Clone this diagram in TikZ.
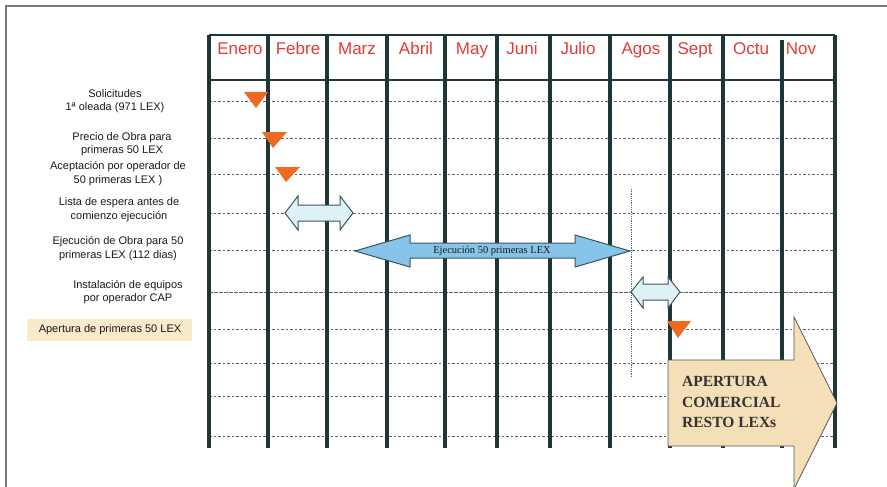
\documentclass[tikz,border=0pt]{standalone}
\usepackage{fontspec}
\setmainfont{Liberation Sans}
\newfontfamily\serifx{Liberation Serif}
\definecolor{gridc}{HTML}{1E3636}
\definecolor{dashc}{HTML}{5A6470}
\definecolor{monthc}{HTML}{E03A3A}
\definecolor{orangec}{HTML}{EE6A22}
\definecolor{palec}{HTML}{DDF1F7}
\definecolor{bluec}{HTML}{86C4EA}
\definecolor{arrowc}{HTML}{3A5560}
\definecolor{beigec}{HTML}{F5DFB8}
\definecolor{boxc}{HTML}{F9EACB}
\definecolor{framec}{HTML}{7A7A7A}
\begin{document}
\begin{tikzpicture}[x=1pt,y=-1pt,
  vline/.style={line width=4pt,draw=gridc},
  hline/.style={line width=1.3pt,draw=gridc},
  rowline/.style={line width=0.6pt,draw=dashc,dash pattern=on 2.5pt off 2pt},
  month/.style={text=monthc,font=\fontsize{17}{18}\selectfont,inner sep=0pt,anchor=base},
  lab/.style={align=center,font=\fontsize{11}{13.5}\selectfont,inner sep=0pt,text=black!90},
  tri/.style={fill=orangec},
  pale/.style={fill=palec,draw=arrowc,line width=1pt,line join=miter},
  bigblue/.style={fill=bluec,draw=arrowc,line width=1pt},
  beige/.style={fill=beigec,draw=black!65,line width=0.8pt},
  serlab/.style={font=\serifx\fontsize{10.5}{12}\selectfont,text=black!90,inner sep=0pt},
  bigtxt/.style={font=\serifx\bfseries\fontsize{15.5}{20.5}\selectfont,text=black!80,align=left,inner sep=0pt}
]
\useasboundingbox (0,0) rectangle (887,487);
% frame
\draw[framec,line width=1.2pt] (6,487) -- (6,6) -- (887,6);
% row lines
\foreach \y in {101,138,174,213,250,329,363,396,436}
  \draw[rowline] (209,\y) -- (835,\y);
\draw[line width=0.6pt,draw=dashc,dash pattern=on 4pt off 1pt] (209,292) -- (835,292);
% vertical dotted
\coordinate (vd1) at (631,189);
\coordinate (vd2) at (631,378);
\draw[line width=0.8pt,draw=dashc,densely dotted] (vd1) -- (vd2);
% grid
\draw[hline] (209,35) -- (835,35);
\draw[hline] (209,80) -- (835,80);
\foreach \x in {209,268,327,387,445,497,550,610,670,723,835}
  \draw[vline] (\x,35) -- (\x,448);
\draw[vline] (782,40) -- (782,448);
% months
\node[month] (m1) at (240,55) {Enero};
\node[month] (m2) at (298,55) {Febre};
\node[month] (m3) at (357,55) {Marz};
\node[month] (m4) at (416,55) {Abril};
\node[month] (m5) at (472,55) {May};
\node[month] (m6) at (522,55) {Juni};
\node[month] (m7) at (578,55) {Julio};
\node[month] (m8) at (641,55) {Agos};
\node[month] (m9) at (695,55) {Sept};
\node[month] (m10) at (751,55) {Octu};
\node[month] (m11) at (801,55) {Nov};
% triangles
\fill[tri] (244,92) -- (268,92) -- (256,108) -- cycle;
\fill[tri] (262,132) -- (287,132) -- (273,148) -- cycle;
\fill[tri] (275,167) -- (300,167) -- (286,182) -- cycle;
\fill[tri] (667,321) -- (691,321) -- (678,338) -- cycle;
% arrows
\draw[pale] (285,213) -- (298,196) -- (298,205) -- (340,205) -- (340,196) -- (353,213)
  -- (340,230) -- (340,221) -- (298,221) -- (298,230) -- cycle;
\draw[bigblue] (355,251) -- (410,235) -- (410,243) -- (575,243) -- (575,235) -- (630,251)
  -- (575,267) -- (575,258) -- (410,258) -- (410,267) -- cycle;
\node[serlab] (ej) at (492,251) {Ejecución 50 primeras LEX};
\draw[pale] (631,292) -- (643,277) -- (643,284) -- (668,284) -- (668,277) -- (680,292)
  -- (668,308) -- (668,300) -- (643,300) -- (643,308) -- cycle;
\draw[beige] (668,360) -- (794,360) -- (794,317) -- (837,403) -- (794,489) -- (794,446)
  -- (668,446) -- cycle;
\node[bigtxt,anchor=west] (ap) at (682,402) {APERTURA\\COMERCIAL\\RESTO LEXs};
% left labels
\node[lab] (l1) at (115,101) {Solicitudes\\1ª oleada (971 LEX)};
\node[lab] (l2) at (122,144) {Precio de Obra para\\primeras 50 LEX};
\node[lab] (l3) at (118,173.5) {Aceptación por operador de\\50 primeras LEX )};
\node[lab] (l4) at (119,209.5) {Lista de espera antes de\\comienzo ejecución};
\node[lab] (l5) at (118,248.5) {Ejecución de Obra para 50\\primeras LEX (112 dias)};
\node[lab] (l6) at (128,292) {Instalación de equipos\\por operador CAP};
\fill[boxc] (27,319) rectangle (192,341);
\node[lab] (l7) at (110,330) {Apertura de primeras 50 LEX};
\end{tikzpicture}
\end{document}
